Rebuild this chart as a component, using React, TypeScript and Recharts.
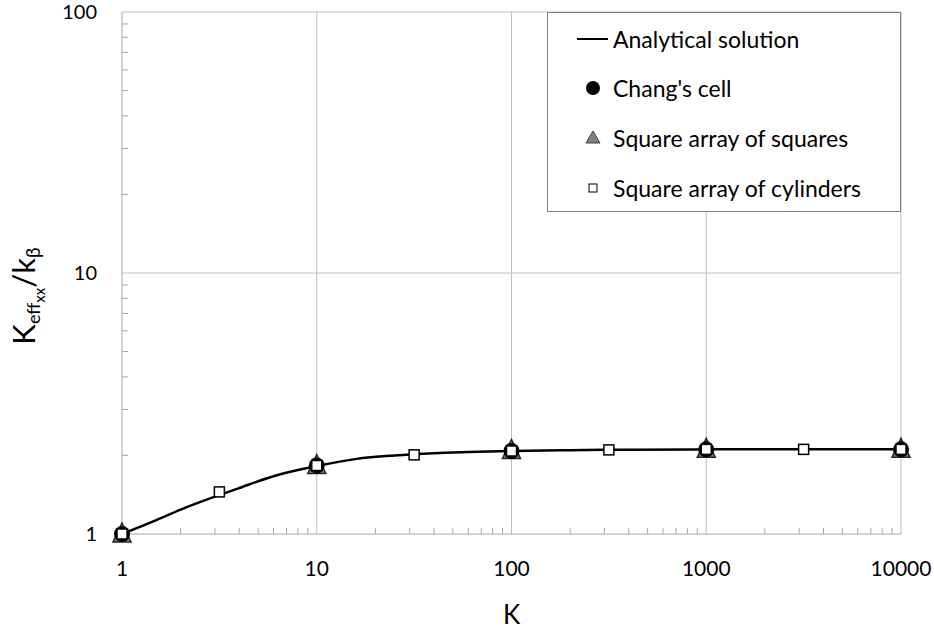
import React from 'react';
import { ComposedChart, Line, Scatter, XAxis, YAxis, ReferenceLine, Legend } from 'recharts';

const FONT = 'Lato, Carlito, "Open Sans", sans-serif';

const kappaTicks = [1, 10, 100, 1000, 10000];
const ratioTicks = [1, 10, 100];
const kappaMinorTicks = [
  2, 3, 4, 5, 6, 7, 8, 9,
  20, 30, 40, 50, 60, 70, 80, 90,
  200, 300, 400, 500, 600, 700, 800, 900,
  2000, 3000, 4000, 5000, 6000, 7000, 8000, 9000,
];
const ratioMinorTicks = [2, 3, 4, 5, 6, 7, 8, 9, 20, 30, 40, 50, 60, 70, 80, 90];

const seriesNames = ['Analytical solution', "Chang's cell", 'Square array of squares', 'Square array of cylinders'];

const analyticalK = [1, 1.5, 2, 3, 4, 6, 10, 16, 25, 40, 60, 100, 200, 400, 1000, 3000, 10000];
const analyticalRatio = [1, 1.13, 1.24, 1.39, 1.5, 1.665, 1.82, 1.94, 2.0, 2.04, 2.06, 2.08, 2.095, 2.105, 2.11, 2.112, 2.112];

const changK = [1, 10, 100, 1000, 10000];
const changRatio = [1, 1.83, 2.08, 2.11, 2.11];

const squaresK = [1, 10, 100, 1000, 10000];
const squaresRatio = [1, 1.83, 2.09, 2.11, 2.11];

const cylindersK = [1, 3.162, 10, 31.62, 100, 316.2, 1000, 3162, 10000];
const cylindersRatio = [1, 1.45, 1.83, 2.01, 2.08, 2.1, 2.11, 2.11, 2.11];

const toPoints = (xs: number[], ys: number[]) => xs.map((x, i) => ({ x, y: ys[i] }));

const analyticalData = toPoints(analyticalK, analyticalRatio);
const changData = toPoints(changK, changRatio);
const squaresData = toPoints(squaresK, squaresRatio);
const cylindersData = toPoints(cylindersK, cylindersRatio);

const allKappaTicks = [...kappaTicks, ...kappaMinorTicks].sort((a, b) => a - b);
const allRatioTicks = [...ratioTicks, ...ratioMinorTicks].sort((a, b) => a - b);

const GRID = '#bfbfbf';
const AXIS = '#a6a6a6';
const X_TICK_MARGIN = 27;
const Y_TICK_MARGIN = 25;
const MINOR_LEN = 6;

const CircleShape = (p: any) => <circle cx={p.cx} cy={p.cy} r={8} fill="#000" />;
const TriangleShape = (p: any) => (
  <path
    d={`M${p.cx},${p.cy - 11} L${p.cx + 9},${p.cy + 8} L${p.cx - 9},${p.cy + 8} Z`}
    fill="#808080"
    stroke="#262626"
    strokeWidth={1.5}
  />
);
const SquareShape = (p: any) => (
  <rect x={p.cx - 5} y={p.cy - 5} width={10} height={10} fill="#fff" stroke="#000" strokeWidth={1.5} />
);

const XTick = (p: any) => {
  const v = p.payload?.value;
  if (kappaTicks.includes(v)) {
    return (
      <text x={p.x} y={p.y} dy="0.71em" textAnchor="middle" fill="#000" fontSize={21} fontFamily={FONT}>
        {v}
      </text>
    );
  }
  const axisY = p.y - X_TICK_MARGIN;
  return <line x1={p.x} x2={p.x} y1={axisY} y2={axisY - MINOR_LEN} stroke={AXIS} strokeWidth={1} />;
};

const YTick = (p: any) => {
  const v = p.payload?.value;
  if (ratioTicks.includes(v)) {
    return (
      <text x={p.x} y={p.y} dy="0.355em" textAnchor="end" fill="#000" fontSize={20} fontFamily={FONT}>
        {v}
      </text>
    );
  }
  const axisX = p.x + Y_TICK_MARGIN;
  return <line x1={axisX} x2={axisX + MINOR_LEN} y1={p.y} y2={p.y} stroke={AXIS} strokeWidth={1} />;
};

const LegendIcon = ({ index }: { index: number }) => {
  if (index === 0) return <line x1={0} y1={10} x2={31} y2={10} stroke="#000" strokeWidth={2} />;
  if (index === 1) return <circle cx={16} cy={10} r={7} fill="#000" />;
  if (index === 2) return <path d="M16,3 L23,15 L9,15 Z" fill="#808080" stroke="#404040" strokeWidth={1} />;
  return <rect x={12} y={6} width={8} height={8} fill="#fff" stroke="#000" strokeWidth={1} />;
};

const rowCenters = [26, 75, 125, 175];

const LegendContent = () => (
  <div
    style={{
      width: 354,
      height: 200,
      boxSizing: 'border-box',
      border: '1px solid #7f7f7f',
      background: '#fff',
      position: 'relative',
      fontFamily: FONT,
      fontSize: 23,
      color: '#000',
    }}
  >
    {seriesNames.map((name, i) => (
      <div key={name} style={{ position: 'absolute', left: 29, top: rowCenters[i] - 13, height: 26, display: 'flex', alignItems: 'center' }}>
        <svg width={33} height={20} style={{ display: 'block' }}>
          <LegendIcon index={i} />
        </svg>
        <span style={{ marginLeft: 3, whiteSpace: 'nowrap', lineHeight: '26px' }}>{name}</span>
      </div>
    ))}
  </div>
);

const XTitle = (props: any) => {
  const vb = props.viewBox || { x: 122, y: 534, width: 779 };
  return (
    <text x={vb.x + vb.width / 2} y={vb.y + 90} textAnchor="middle" fontFamily={FONT} fontSize={26} fill="#000">
      K
    </text>
  );
};

const YTitle = () => {
  const cx = 35;
  const cy = 296;
  return (
    <text
      x={cx}
      y={cy}
      transform={`rotate(-90, ${cx}, ${cy})`}
      textAnchor="middle"
      fontFamily={FONT}
      fill="#000"
    >
      <tspan fontSize={31}>K</tspan>
      <tspan fontSize={18} dy={5}>eff</tspan>
      <tspan fontSize={15} dy={5}>xx</tspan>
      <tspan fontSize={31} dy={-10}>/k</tspan>
      <tspan fontSize={19} dy={5}>β</tspan>
    </text>
  );
};

export default function App() {
  return (
    <div style={{ position: 'absolute', left: 0, top: 0, background: '#fff' }}>
      <ComposedChart width={934} height={634} margin={{ top: 12, right: 33, bottom: 0, left: 0 }}>
        <XAxis
          dataKey="x"
          type="number"
          scale="log"
          domain={[1, 10000]}
          ticks={allKappaTicks}
          tickLine={false}
          tickSize={0}
          tickMargin={X_TICK_MARGIN}
          axisLine={{ stroke: AXIS }}
          tick={XTick}
          height={100}
          interval={0}
          label={<XTitle />}
        />
        <YAxis
          dataKey="y"
          type="number"
          scale="log"
          domain={[1, 100]}
          ticks={allRatioTicks}
          tickLine={false}
          tickSize={0}
          tickMargin={Y_TICK_MARGIN}
          axisLine={{ stroke: AXIS }}
          tick={YTick}
          width={122}
          interval={0}
          label={<YTitle />}
        />
        {kappaTicks.slice(1).map((v) => (
          <ReferenceLine key={`gx${v}`} x={v} stroke={GRID} strokeWidth={1} />
        ))}
        {ratioTicks.slice(1).map((v) => (
          <ReferenceLine key={`gy${v}`} y={v} stroke={GRID} strokeWidth={1} />
        ))}
        <Line
          data={analyticalData}
          dataKey="y"
          name={seriesNames[0]}
          type="monotone"
          stroke="#000"
          strokeWidth={2.5}
          dot={false}
          activeDot={false}
          isAnimationActive={false}
        />
        <Scatter data={squaresData} name={seriesNames[2]} shape={TriangleShape} isAnimationActive={false} />
        <Scatter data={changData} name={seriesNames[1]} shape={CircleShape} isAnimationActive={false} />
        <Scatter data={cylindersData} name={seriesNames[3]} shape={SquareShape} isAnimationActive={false} />
        <Legend
          layout="vertical"
          align="center"
          verticalAlign="middle"
          content={<LegendContent />}
          wrapperStyle={{ position: 'absolute', left: 547, top: 12, width: 354, height: 200 }}
        />
      </ComposedChart>
    </div>
  );
}
